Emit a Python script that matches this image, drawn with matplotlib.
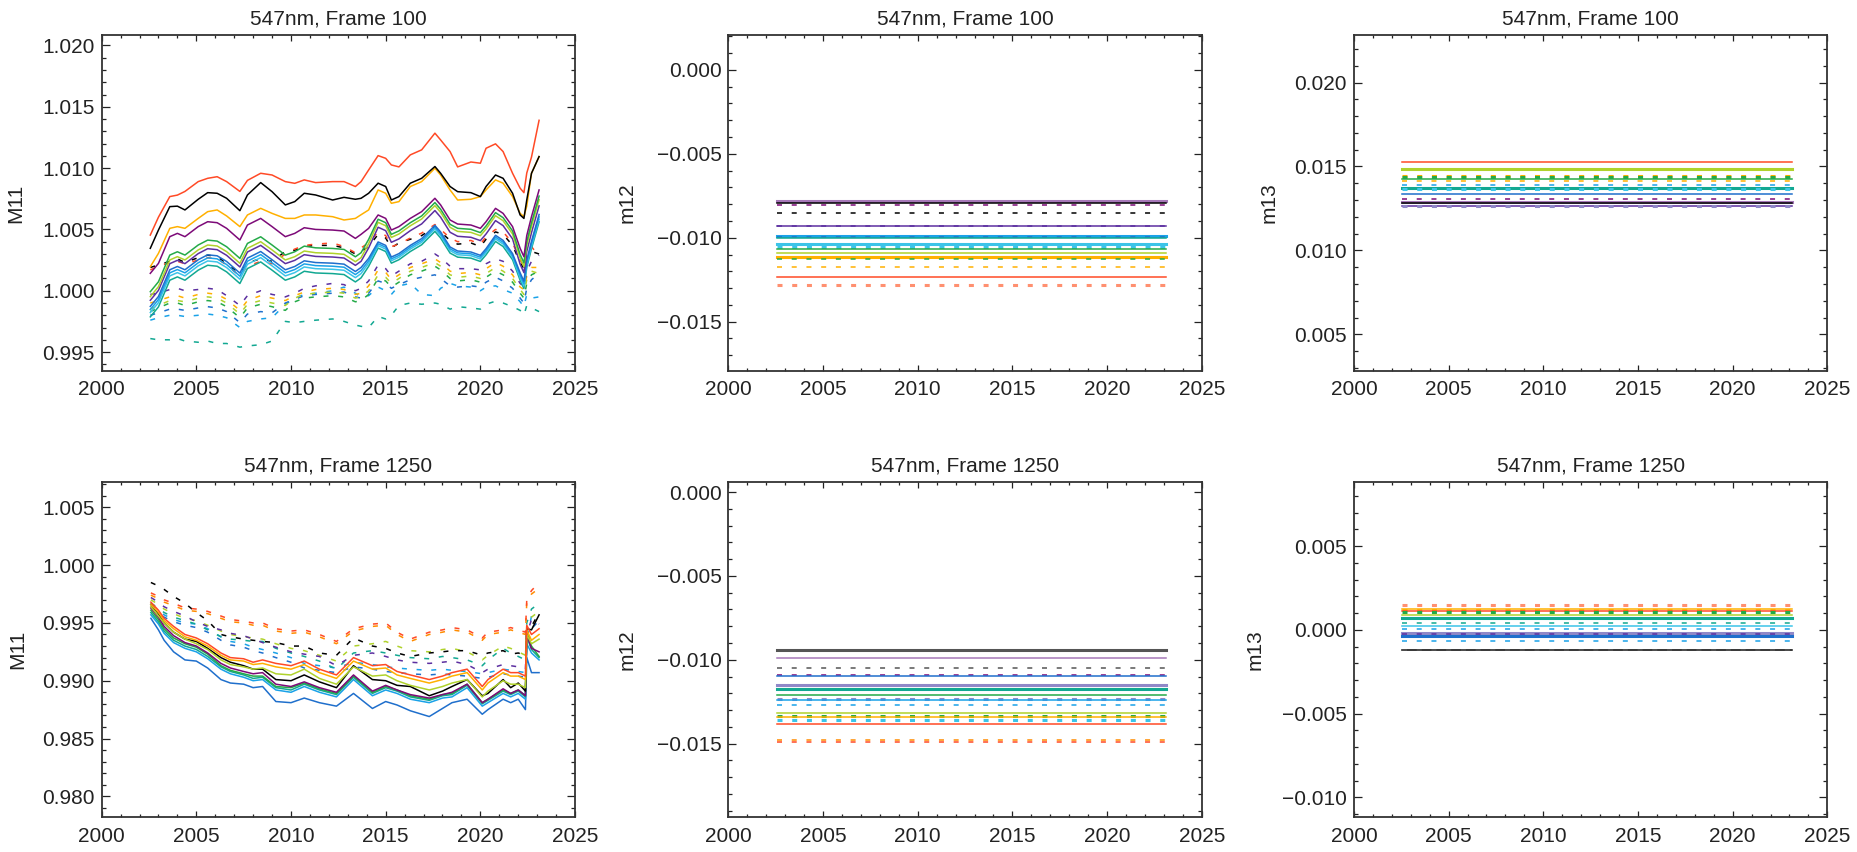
import numpy as np
import matplotlib
matplotlib.use("Agg")
import matplotlib.pyplot as plt
from matplotlib.ticker import MultipleLocator, FuncFormatter

plt.rcParams['font.family'] = ['Liberation Sans', 'DejaVu Sans']
plt.rcParams['lines.scale_dashes'] = False

# colour names used by every panel
col = {
    'black': '#000000', 'purple': '#7d0a78', 'indigo': '#5c2fa0', 'blue': '#1f6fcc',
    'lblue': '#1aa2e8', 'cyan': '#3cc4e8', 'teal': '#12a892', 'green': '#24aa48',
    'yg': '#b0d22c', 'gold': '#ffb000', 'orange': '#ff8c00', 'red': '#ff4a26',
    'mauve': '#a678b8', 'lav': '#9088c8', 'salmon': '#ff9070', 'gray': '#555555',
}

# ---------------- M11, frame 100 (values are (M11-1)*1e3) ----------------
yrs_f100 = [2002.57, 2003.0, 2003.6, 2004.0, 2004.4, 2005.1, 2005.6, 2006.1, 2006.6, 2007.3,
            2007.7, 2008.4, 2009.0, 2009.7, 2010.2, 2010.7, 2011.3, 2012.2, 2012.8, 2013.4,
            2013.7, 2014.1, 2014.6, 2015.0, 2015.3, 2015.7, 2016.3, 2016.9, 2017.6, 2017.9,
            2018.4, 2018.8, 2019.5, 2020.0, 2020.3, 2020.8, 2021.2, 2021.7, 2022.1, 2022.3,
            2022.45, 2022.7, 2023.1]

f100_red = [4.54, 6.0, 7.68, 7.8, 8.1, 8.9, 9.17, 9.3, 8.9, 8.1, 9.0, 9.58, 9.44, 8.9, 8.76, 9.04,
            8.82, 8.9, 8.9, 8.5, 8.9, 9.85, 11.02, 10.8, 10.26, 10.1, 11.08, 11.49, 12.85, 12.3,
            11.35, 10.1, 10.5, 10.4, 11.62, 11.98, 11.35, 9.58, 8.36, 8.0, 9.6, 10.9, 13.9]
f100_black = [3.46, 4.95, 6.86, 6.9, 6.59, 7.46, 8.0, 7.95, 7.54, 6.53, 7.81, 8.82, 8.08, 7.0, 7.27,
              7.95, 7.81, 7.4, 7.62, 7.46, 7.54, 7.95, 8.77, 8.5, 7.4, 7.68, 8.77, 9.17, 10.13, 9.58,
              8.5, 8.08, 8.0, 7.68, 8.5, 9.44, 9.17, 7.95, 6.18, 5.9, 7.4, 9.58, 10.94]
f100_gold = [1.96, 3.05, 5.09, 5.23, 5.09, 5.9, 6.45, 6.59, 6.1, 5.23, 6.18, 6.72, 6.31, 5.9, 5.9,
             6.18, 6.18, 6.04, 5.77, 5.9, 6.2, 6.59, 8.22, 7.95, 7.13, 7.27, 8.5, 8.9, 9.99, 9.44,
             8.22, 7.4, 7.46, 7.68, 8.22, 9.04, 8.77, 7.68, 6.31, 6.04, 6.9, 9.58, 10.94]
f100_purple = [1.42, 2.23, 4.41, 4.68, 4.41, 5.23, 5.63, 5.55, 5.09, 4.14, 5.36, 5.9, 5.23, 4.41,
               4.68, 5.14, 5.0, 4.95, 4.87, 4.27, 4.6, 5.09, 6.18, 5.9, 4.95, 5.23, 5.9, 6.45, 7.54,
               7.0, 5.77, 5.44, 5.36, 5.09, 5.63, 6.72, 6.31, 5.23, 3.46, 2.78, 4.5, 6.04, 8.22]
f100_green = [-0.08, 0.73, 2.91, 3.18, 2.91, 3.73, 4.13, 4.05, 3.59, 2.64, 3.86, 4.4, 3.73, 2.91,
              3.18, 3.64, 3.5, 3.45, 3.37, 2.77, 3.1, 4.19, 5.83, 5.55, 4.6, 4.88, 5.55, 6.1, 7.19,
              6.65, 5.42, 5.09, 5.01, 4.74, 5.28, 6.37, 5.96, 4.88, 2.96, 2.28, 4.0, 5.54, 7.72]
f100_yg = [-0.48, 0.33, 2.51, 2.78, 2.51, 3.33, 3.73, 3.65, 3.19, 2.24, 3.46, 4.0, 3.33, 2.51, 2.78,
           3.24, 3.1, 3.05, 2.97, 2.37, 2.7, 3.84, 5.58, 5.3, 4.35, 4.63, 5.3, 5.85, 6.94, 6.4, 5.17,
           4.84, 4.76, 4.49, 5.03, 6.12, 5.71, 4.63, 2.66, 1.98, 3.7, 5.24, 7.42]
f100_indigo = [-0.78, 0.03, 2.21, 2.48, 2.21, 3.03, 3.43, 3.35, 2.89, 1.94, 3.16, 3.7, 3.03, 2.21,
               2.48, 2.94, 2.8, 2.75, 2.67, 2.07, 2.4, 3.49, 5.18, 4.9, 3.95, 4.23, 4.9, 5.45, 6.54,
               6.0, 4.77, 4.44, 4.36, 4.09, 4.63, 5.72, 5.31, 4.23, 2.16, 1.48, 3.2, 4.74, 6.92]
f100_blue = [-1.28, -0.47, 1.71, 1.98, 1.71, 2.53, 2.93, 2.85, 2.39, 1.44, 2.66, 3.2, 2.53, 1.71,
             1.98, 2.44, 2.3, 2.25, 2.17, 1.57, 1.9, 2.64, 3.98, 3.7, 2.75, 3.03, 3.7, 4.25, 5.34,
             4.8, 3.57, 3.24, 3.16, 2.89, 3.43, 4.52, 4.11, 3.03, 1.46, 0.78, 2.5, 4.04, 6.22]
f100_lblue = [-1.53, -0.72, 1.46, 1.73, 1.46, 2.28, 2.68, 2.6, 2.14, 1.19, 2.41, 2.95, 2.28, 1.46,
              1.73, 2.19, 2.05, 2.0, 1.92, 1.32, 1.65, 2.44, 3.83, 3.55, 2.6, 2.88, 3.55, 4.1, 5.19,
              4.65, 3.42, 3.09, 3.01, 2.74, 3.28, 4.37, 3.96, 2.88, 1.26, 0.58, 2.3, 3.84, 6.02]
f100_cyan = [-1.78, -0.97, 1.21, 1.48, 1.21, 2.03, 2.43, 2.35, 1.89, 0.94, 2.16, 2.7, 2.03, 1.21,
             1.48, 1.94, 1.8, 1.75, 1.67, 1.07, 1.4, 2.24, 3.68, 3.4, 2.45, 2.73, 3.4, 3.95, 5.04,
             4.5, 3.27, 2.94, 2.86, 2.59, 3.13, 4.22, 3.81, 2.73, 1.06, 0.38, 2.1, 3.64, 5.82]
f100_teal = [-2.13, -1.32, 0.86, 1.13, 0.86, 1.68, 2.08, 2.0, 1.54, 0.59, 1.81, 2.35, 1.68, 0.86,
             1.13, 1.59, 1.45, 1.4, 1.32, 0.72, 1.05, 1.99, 3.48, 3.2, 2.25, 2.53, 3.2, 3.75, 4.84,
             4.3, 3.07, 2.74, 2.66, 2.39, 2.93, 4.02, 3.61, 2.53, 0.86, 0.18, 1.9, 3.44, 5.62]

f100_black_d = [1.9, 2.1, 2.4, 2.6, 2.3, 2.7, 2.9, 2.8, 2.2, 1.4, 2.3, 2.6, 2.4, 3.2, 3.3, 3.6, 3.7,
                3.7, 3.5, 3.0, 3.2, 3.6, 4.6, 4.3, 3.5, 3.9, 4.2, 4.5, 5.2, 4.8, 4.1, 3.8, 3.9, 3.6,
                4.2, 4.8, 4.6, 3.7, 2.3, 1.8, 3.0, 3.2, 3.0]
f100_red_d = [1.7, 2.0, 2.3, 2.4, 2.2, 2.5, 2.7, 2.6, 2.1, 1.2, 2.0, 2.4, 2.2, 3.0, 3.4, 3.7, 3.8,
              3.9, 3.6, 3.1, 3.5, 3.9, 4.8, 4.5, 3.6, 3.8, 4.3, 4.7, 5.4, 5.0, 4.3, 4.0, 4.1, 3.8,
              4.4, 5.0, 4.8, 3.9, 2.5, 2.0, 3.3, 3.6, 2.8]
f100_purple_d = [-0.3, -0.2, 0.1, 0.2, 0.0, 0.1, 0.2, 0.1, -0.4, -1.2, -0.4, 0.0, -0.3, -0.5, -0.2,
                 0.2, 0.4, 0.6, 0.5, 0.0, 0.2, 0.8, 2.1, 1.8, 1.2, 1.6, 2.2, 2.4, 3.0, 2.7, 2.0,
                 1.8, 1.8, 1.7, 2.2, 2.6, 2.4, 1.6, 0.6, 0.3, 1.6, 2.4, 2.9]
f100_orange_d = [-1.0, -0.8, -0.5, -0.4, -0.6, -0.3, -0.2, -0.3, -0.7, -1.6, -0.8, -0.4, -0.6,
                 -0.8, -0.4, -0.1, 0.1, 0.2, 0.1, -0.3, -0.2, 0.4, 1.7, 1.5, 0.9, 1.3, 1.9, 2.2,
                 2.6, 2.3, 1.6, 1.4, 1.5, 1.3, 1.8, 2.3, 2.0, 1.3, 0.3, 0.1, 1.2, 1.9, 1.9]
f100_yg_d = [-1.5, -1.2, -0.8, -0.8, -0.9, -0.6, -0.5, -0.6, -1.0, -1.9, -1.1, -0.8, -1.0, -1.2,
             -0.6, -0.3, -0.2, -0.1, -0.2, -0.6, -0.5, 0.0, 1.3, 1.1, 0.6, 1.0, 1.6, 1.9, 2.3, 2.0,
             1.3, 1.1, 1.2, 1.0, 1.4, 1.9, 1.6, 1.0, 0.1, -0.3, 0.9, 1.6, 1.4]
f100_green_d = [-1.7, -1.4, -1.0, -1.0, -1.2, -0.9, -0.8, -0.9, -1.3, -2.2, -1.4, -1.1, -1.3, -1.6,
                -0.9, -0.6, -0.5, -0.4, -0.5, -0.9, -0.8, -0.3, 1.0, 0.8, 0.3, 0.7, 1.3, 1.6, 2.0,
                1.7, 1.0, 0.8, 0.9, 0.7, 1.1, 1.6, 1.3, 0.7, -0.2, -0.6, 0.6, 1.3, 1.6]
f100_blue_d = [-2.0, -1.8, -1.5, -1.5, -1.6, -1.4, -1.3, -1.4, -1.7, -2.6, -1.9, -1.7, -1.8, -1.0,
               -0.7, -0.4, -0.3, -0.2, -0.1, -0.5, -0.6, -0.2, 0.8, 0.6, 0.2, 0.5, 0.9, 1.1, 1.3,
               1.0, 0.4, 0.3, 0.4, 0.3, 0.7, 1.1, 0.8, 0.2, -0.6, -1.0, 0.2, 0.9, 1.4]
f100_lblue_d = [-2.4, -2.2, -2.0, -2.0, -2.1, -2.0, -1.9, -2.0, -2.2, -3.0, -2.5, -2.3, -2.2, -1.1,
                -0.6, -0.3, -0.2, 0.0, 0.3, -0.2, -0.5, -0.4, 0.3, 0.0, -0.3, 0.4, 0.6, -0.3, -0.4,
                0.2, 0.6, 0.4, 0.3, 0.0, 0.3, 0.4, 0.1, -0.2, -0.9, -1.3, -0.3, -0.6, -0.5]
f100_teal_d = [-3.9, -4.0, -4.0, -3.9, -4.1, -4.2, -4.1, -4.3, -4.3, -4.6, -4.5, -4.4, -4.1, -2.5,
               -2.6, -2.5, -2.4, -2.3, -2.5, -2.8, -2.9, -3.0, -2.1, -2.3, -2.0, -1.2, -1.0, -1.1,
               -1.0, -1.1, -1.5, -1.3, -1.4, -1.5, -1.1, -0.85, -1.0, -1.3, -1.6, -2.0, -1.2,
               -1.4, -1.7]

f100_solid = [(f100_teal, 'teal'), (f100_cyan, 'cyan'), (f100_lblue, 'lblue'), (f100_blue, 'blue'),
              (f100_indigo, 'indigo'), (f100_yg, 'yg'), (f100_green, 'green'),
              (f100_purple, 'purple'), (f100_gold, 'gold'), (f100_black, 'black'), (f100_red, 'red')]
f100_dashed = [(f100_teal_d, 'teal'), (f100_lblue_d, 'lblue'), (f100_blue_d, 'blue'),
               (f100_green_d, 'green'), (f100_yg_d, 'yg'), (f100_orange_d, 'gold'),
               (f100_purple_d, 'indigo'), (f100_black_d, 'black'), (f100_red_d, 'red')]

# ---------------- M11, frame 1250 (values are (M11-1)*1e3) ----------------
yrs_f1250 = [2002.6, 2003.0, 2003.3, 2003.8, 2004.4, 2005.0, 2005.6, 2006.3, 2006.8, 2007.5,
             2008.0, 2008.5, 2009.2, 2010.0, 2010.7, 2011.5, 2012.4, 2013.3, 2014.3, 2015.0,
             2015.6, 2016.3, 2017.3, 2018.0, 2018.5, 2019.3, 2020.1, 2020.4, 2021.2, 2021.6,
             2022.0, 2022.38, 2022.45, 2022.7, 2023.1]

f1250_red = [-3.2, -3.9, -4.6, -5.3, -6.0, -6.3, -6.8, -7.6, -8.0, -8.1, -8.4, -8.2, -8.5, -8.7,
             -8.3, -9.0, -9.5, -8.0, -8.7, -8.6, -9.2, -9.5, -9.9, -9.6, -9.3, -9.0, -10.5, -9.9,
             -9.0, -9.3, -9.3, -9.6, -5.2, -6.0, -5.5]
f1250_orange = [-3.4, -4.1, -4.8, -5.5, -6.2, -6.5, -7.0, -7.8, -8.2, -8.3, -8.6, -8.5, -8.8, -9.0,
                -8.6, -9.3, -9.8, -8.3, -9.0, -8.9, -9.5, -9.8, -10.2, -9.9, -9.6, -9.3, -10.8,
                -10.2, -9.3, -9.6, -9.6, -9.9, -5.6, -6.5, -6.0]
f1250_yg = [-3.6, -4.4, -5.0, -5.8, -6.4, -6.8, -7.3, -8.2, -8.6, -8.8, -9.0, -8.9, -9.4, -9.5,
            -9.0, -9.8, -10.3, -8.8, -9.6, -9.5, -10.0, -10.4, -10.8, -10.5, -10.2, -9.9, -11.4,
            -10.9, -10.0, -10.3, -10.3, -10.6, -6.0, -6.8, -6.4]
f1250_black = [-3.4, -4.2, -5.0, -5.8, -6.4, -6.6, -7.2, -8.0, -8.4, -8.7, -9.0, -9.0, -9.9, -10.0,
               -9.5, -10.1, -10.6, -8.7, -9.9, -10.0, -10.4, -10.5, -11.3, -10.9, -10.5, -9.9,
               -11.3, -11.1, -9.9, -10.6, -10.2, -10.9, -5.5, -5.6, -4.3]
f1250_purple = [-3.7, -4.5, -5.3, -6.1, -6.7, -7.0, -7.6, -8.5, -8.9, -9.2, -9.4, -9.3, -10.3,
                -10.5, -10.1, -10.6, -11.0, -9.5, -10.9, -10.4, -10.8, -11.2, -11.5, -11.2, -11.0,
                -10.3, -11.9, -11.6, -10.7, -11.1, -10.8, -11.3, -6.0, -7.2, -7.5]
f1250_green = [-3.9, -4.7, -5.5, -6.3, -6.8, -7.1, -7.7, -8.7, -9.1, -9.4, -9.6, -9.6, -10.5,
               -10.6, -10.2, -10.7, -11.1, -9.6, -11.0, -10.5, -10.8, -11.3, -11.6, -11.2, -11.1,
               -10.3, -11.9, -11.6, -10.8, -11.1, -10.8, -11.3, -5.8, -7.0, -7.9]
f1250_teal = [-4.1, -4.9, -5.7, -6.5, -7.0, -7.3, -7.9, -8.8, -9.2, -9.5, -9.8, -9.7, -10.6, -10.8,
              -10.3, -10.8, -11.2, -9.7, -11.1, -10.6, -10.9, -11.4, -11.7, -11.3, -11.2, -10.4,
              -12.0, -11.7, -10.9, -11.2, -10.9, -11.4, -6.2, -7.3, -8.0]
f1250_lblue = [-4.3, -5.1, -5.9, -6.7, -7.2, -7.5, -8.1, -9.0, -9.4, -9.7, -10.0, -9.9, -10.8,
               -11.0, -10.5, -11.0, -11.4, -9.9, -11.3, -10.8, -11.1, -11.6, -11.9, -11.5, -11.4,
               -10.6, -12.2, -11.9, -11.1, -11.4, -11.1, -11.6, -6.8, -7.6, -8.2]
f1250_blue = [-4.6, -5.6, -6.5, -7.5, -8.2, -8.3, -8.9, -9.9, -10.2, -10.3, -10.6, -10.5, -11.8,
              -11.9, -11.5, -11.9, -12.2, -11.1, -12.4, -11.8, -12.1, -12.6, -13.1, -12.4, -11.9,
              -11.6, -12.9, -12.5, -11.6, -11.9, -11.6, -12.5, -8.0, -9.3, -9.3]

f1250_red_d = [-2.4, -2.7, -3.0, -3.3, -3.7, -3.8, -4.0, -4.4, -4.7, -4.85, -5.0, -5.0, -5.5, -5.7,
               -5.6, -6.0, -6.6, -5.5, -5.1, -5.0, -5.8, -6.4, -5.8, -5.6, -5.4, -5.6, -6.3, -5.8,
               -5.6, -5.4, -5.6, -5.8, -3.0, -2.2, -1.5]
f1250_orange_d = [-2.6, -2.9, -3.2, -3.5, -3.9, -4.0, -4.2, -4.6, -4.9, -5.0, -5.2, -5.2, -5.7,
                  -5.9, -5.8, -6.2, -6.8, -5.7, -5.3, -5.2, -6.0, -6.6, -6.0, -5.8, -5.6, -5.8,
                  -6.5, -6.0, -5.8, -5.6, -5.8, -6.0, -3.2, -2.5, -2.0]
f1250_black_d = [-1.5, -1.8, -2.1, -2.7, -3.3, -4.1, -4.8, -6.0, -6.2, -6.4, -6.5, -6.6, -6.7,
                 -7.0, -7.0, -7.6, -7.8, -6.3, -7.0, -7.2, -7.6, -7.9, -7.6, -7.5, -7.4, -7.4,
                 -7.8, -7.6, -7.4, -7.7, -7.6, -7.8, -6.0, -5.3, -4.1]
f1250_purple_d = [-2.8, -3.2, -3.6, -4.0, -4.4, -4.9, -5.3, -5.6, -5.9, -6.1, -6.4, -6.7, -7.1,
                  -7.5, -7.7, -7.9, -8.7, -7.8, -7.6, -7.9, -8.2, -8.4, -8.5, -8.4, -8.3, -8.6,
                  -9.3, -9.0, -8.6, -8.7, -8.8, -9.0, -6.0, -4.7, -5.1]
f1250_green_d = [-3.3, -3.7, -4.1, -4.5, -4.8, -5.1, -5.6, -6.2, -6.4, -6.5, -6.6, -6.6, -7.2,
                 -7.6, -7.9, -8.3, -9.0, -7.6, -7.4, -7.6, -7.8, -8.0, -8.1, -7.9, -8.0, -8.2,
                 -8.7, -8.2, -7.2, -7.6, -7.9, -8.2, -5.0, -3.8, -3.3]
f1250_yg_d = [-3.0, -3.4, -3.8, -4.2, -4.6, -4.8, -5.2, -5.7, -6.0, -6.2, -6.3, -6.4, -6.8, -7.2,
              -7.4, -7.8, -8.3, -7.0, -6.8, -6.6, -7.0, -7.4, -7.5, -7.3, -7.2, -7.5, -8.2, -7.8,
              -7.0, -7.2, -7.5, -7.8, -5.2, -4.5, -4.0]
f1250_lblue_d = [-3.5, -3.9, -4.3, -4.7, -5.0, -5.1, -5.5, -6.2, -6.6, -6.8, -7.1, -7.3, -7.6,
                 -8.0, -8.5, -8.7, -8.9, -8.4, -8.6, -8.8, -8.9, -9.0, -9.1, -9.0, -9.1, -9.2,
                 -9.4, -9.3, -9.0, -9.1, -9.2, -9.3, -6.5, -4.4, -4.2]
f1250_blue_d = [-3.7, -4.1, -4.5, -4.9, -5.2, -5.4, -5.8, -6.5, -6.9, -7.1, -7.4, -7.6, -8.0, -8.4,
                -8.9, -9.1, -9.3, -8.8, -9.0, -9.2, -9.3, -9.4, -9.5, -9.4, -9.5, -9.6, -9.8,
                -9.7, -9.4, -9.5, -9.6, -9.7, -7.0, -5.5, -4.8]

f1250_solid = [(f1250_blue, 'blue'), (f1250_lblue, 'lblue'), (f1250_teal, 'teal'),
               (f1250_green, 'green'), (f1250_purple, 'purple'), (f1250_black, 'black'),
               (f1250_yg, 'yg'), (f1250_orange, 'gold'), (f1250_red, 'red')]
f1250_dashed = [(f1250_blue_d, 'blue'), (f1250_lblue_d, 'lblue'), (f1250_green_d, 'teal'),
                (f1250_yg_d, 'yg'), (f1250_purple_d, 'indigo'), (f1250_black_d, 'black'),
                (f1250_orange_d, 'orange'), (f1250_red_d, 'red')]

# ---------------- constant terms (values *1e3) ----------------
t_span = [2002.55, 2023.12]

m12_f100 = [-7.81, -7.91, -8.05, -8.55, -9.28, -9.32, -9.88, -9.98, -10.02, -10.38, -10.54,
            -10.70, -10.93, -11.17, -11.29, -11.73, -12.35, -12.82]
m12_f100_col = ['mauve', 'black', 'purple', 'black', 'indigo', 'indigo', 'lblue', 'blue', 'teal',
                'cyan', 'cyan', 'green', 'yg', 'gold', 'green', 'gold', 'red', 'salmon']
m12_f100_dash = [0, 0, 1, 1, 1, 0, 0, 1, 0, 0, 1, 0, 0, 0, 1, 1, 0, 1]
m12_f100_thick = [1, 0, 0, 0, 0, 0, 1, 0, 0, 1, 1, 0, 0, 1, 0, 0, 0, 1]

m13_f100 = [15.24, 14.86, 14.84, 14.42, 14.38, 14.28, 14.12, 13.92, 13.69, 13.63, 13.39, 13.07,
            12.89, 12.83, 12.67, 12.66]
m13_f100_col = ['red', 'red', 'yg', 'gold', 'green', 'green', 'gold', 'lblue', 'teal', 'cyan',
                'blue', 'purple', 'mauve', 'black', 'indigo', 'lav']
m13_f100_dash = [0, 1, 0, 1, 1, 0, 1, 1, 0, 1, 0, 1, 0, 0, 0, 1]
m13_f100_thick = [0, 0, 1, 1, 1, 0, 0, 0, 1, 1, 0, 0, 1, 0, 0, 1]

m12_f1250 = [-9.40, -9.88, -10.48, -10.88, -10.96, -11.51, -11.73, -12.13, -12.35, -12.41,
             -12.67, -13.16, -13.34, -13.44, -13.60, -13.86, -14.80, -14.90]
m12_f1250_col = ['gray', 'mauve', 'gray', 'purple', 'blue', 'lav', 'teal', 'green', 'lav',
                 'lblue', 'lblue', 'yg', 'green', 'gold', 'cyan', 'red', 'orange', 'red']
m12_f1250_dash = [0, 0, 1, 1, 0, 0, 0, 0, 1, 0, 1, 0, 1, 0, 1, 0, 1, 1]
m12_f1250_thick = [1, 0, 0, 0, 0, 1, 1, 0, 1, 0, 0, 0, 1, 0, 1, 0, 0, 0]

m13_f1250 = [1.49, 1.24, 1.16, 1.10, 1.04, 0.88, 0.68, 0.42, 0.24, 0.04, -0.16, -0.24, -0.38,
             -0.64, -1.18, -1.18]
m13_f1250_col = ['salmon', 'gold', 'gold', 'red', 'green', 'yg', 'teal', 'teal', 'cyan', 'lblue',
                 'lav', 'indigo', 'blue', 'lblue', 'black', 'gray']
m13_f1250_dash = [1, 0, 1, 0, 1, 0, 0, 1, 0, 1, 0, 1, 0, 1, 0, 1]
m13_f1250_thick = [1, 0, 1, 0, 1, 0, 1, 0, 0, 0, 1, 0, 1, 0, 0, 0]

titles = ['547nm, Frame 100', '547nm, Frame 1250']
ylabels = ['M11', 'm12', 'm13']
ylims = [[(0.99348, 1.02082), (-0.01792, 0.00205), (0.00283, 0.02281)],
         [(0.97818, 1.00719), (-0.0194, 0.0006), (-0.0112, 0.00883)]]

DASH = (0, (3.6, 7.0))


def minus_fmt(v, pos):
    s = '%.3f' % v
    if s == '-0.000':
        s = '0.000'
    return s.replace('-', '\u2212')


fig = plt.figure(figsize=(18.58, 8.52), dpi=100)
lefts = [0.0547, 0.3920, 0.7287]
bottoms = [0.5649, 0.0407]
w, h = 0.2548, 0.3935
label_x = [[-0.162, -0.193, -0.159], [-0.158, -0.193, -0.188]]

axes = [[fig.add_axes([lefts[c], bottoms[r], w, h]) for c in range(3)] for r in range(2)]

for r in range(2):
    for c in range(3):
        ax = axes[r][c]
        ax.set_xlim(2000, 2025)
        ax.set_ylim(*ylims[r][c])
        ax.xaxis.set_major_locator(MultipleLocator(5))
        ax.xaxis.set_minor_locator(MultipleLocator(1))
        ax.yaxis.set_major_locator(MultipleLocator(0.005))
        ax.yaxis.set_minor_locator(MultipleLocator(0.001))
        ax.yaxis.set_major_formatter(FuncFormatter(minus_fmt))
        ax.tick_params(axis='both', which='both', direction='in', top=True, right=True,
                       labelsize=15, colors='#222222', width=0.9)
        ax.tick_params(axis='x', which='major', length=4.6, pad=7)
        ax.tick_params(axis='x', which='minor', length=2.3)
        ax.tick_params(axis='y', which='major', length=6.0, pad=5)
        ax.tick_params(axis='y', which='minor', length=3.1)
        for sp in ax.spines.values():
            sp.set_linewidth(1.3)
            sp.set_color('#333333')
        ax.set_title(titles[r], fontsize=15, pad=7.7, color='#222222')
        ax.set_ylabel(ylabels[c], fontsize=15, color='#222222')
        ax.yaxis.set_label_coords(label_x[r][c], 0.5)


def draw_curves(ax, yrs, solid, dashed):
    for vals, cname in dashed:
        ax.plot(yrs, 1 + np.array(vals) / 1000, color=col[cname], lw=1.1, ls=DASH)
    for vals, cname in solid:
        ax.plot(yrs, 1 + np.array(vals) / 1000, color=col[cname], lw=1.1)


def draw_const(ax, vals, cols, dashes, thick):
    for v, cname, d, t in zip(vals, cols, dashes, thick):
        ax.plot(t_span, [v / 1000, v / 1000], color=col[cname], lw=2.2 if t else 1.1,
                ls=DASH if d else '-')


draw_curves(axes[0][0], yrs_f100, f100_solid, f100_dashed)
draw_curves(axes[1][0], yrs_f1250, f1250_solid, f1250_dashed)
draw_const(axes[0][1], m12_f100, m12_f100_col, m12_f100_dash, m12_f100_thick)
draw_const(axes[0][2], m13_f100, m13_f100_col, m13_f100_dash, m13_f100_thick)
draw_const(axes[1][1], m12_f1250, m12_f1250_col, m12_f1250_dash, m12_f1250_thick)
draw_const(axes[1][2], m13_f1250, m13_f1250_col, m13_f1250_dash, m13_f1250_thick)

fig.savefig('out.png', dpi=100)
